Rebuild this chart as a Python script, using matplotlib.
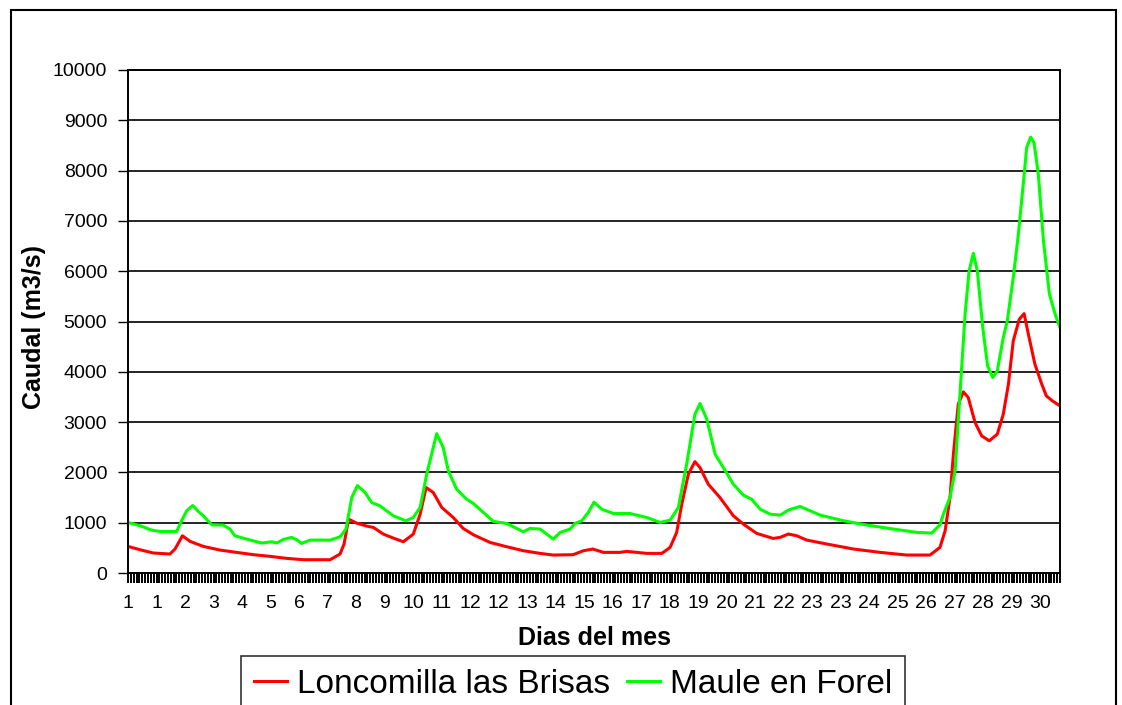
import matplotlib
matplotlib.use('Agg')
import matplotlib.pyplot as plt
from matplotlib.patches import Rectangle

plt.rcParams['font.family'] = ['Liberation Sans', 'DejaVu Sans']

# category axis: one tick per reading, a day label every 10 readings
n_points = 328
day_labels = ['1', '1', '2', '3', '4', '5', '6', '7', '8', '9', '10', '11', '12',
              '12', '13', '14', '15', '16', '17', '18', '19', '20', '21', '22',
              '23', '23', '24', '25', '26', '27', '28', '29', '30']

# (x = reading index, y = m3/s)
loncomilla_x = [0, 4.2, 8.9, 14.7, 16.5, 19.1, 21.8, 26.4, 32.3, 38.1, 44.0, 49.8,
                55.7, 61.5, 70.9, 74.4, 75.8, 77.4, 80.2, 83.8, 86.1, 89.6, 93.1,
                96.6, 100.1, 102.5, 104.6, 107.1, 110.1, 114.1, 117.6, 121.2, 127.0,
                132.9, 138.7, 144.6, 149.2, 156.2, 159.8, 163.1, 166.8, 172.6, 175.0,
                182.0, 187.3, 190.2, 192.5, 194.3, 196.6, 198.9, 200.7, 203.6, 207.7,
                212.4, 215.9, 220.6, 226.4, 228.8, 231.7, 234.6, 238.1, 245.2, 254.5,
                263.9, 273.2, 281.4, 284.9, 286.7, 288.4, 289.6, 291.3, 293.1, 294.8,
                297.2, 299.5, 302.2, 305.0, 307.1, 308.9, 310.6, 312.7, 314.4, 315.9,
                318.2, 320.6, 322.2, 324.3, 327.0]
loncomilla_y = [529, 463, 397, 377, 476, 740, 628, 529, 456, 410, 364, 331,
                291, 264, 264, 377, 575, 1071, 992, 932, 906, 773, 694,
                621, 773, 1170, 1699, 1600, 1302, 1104, 886, 760, 608,
                522, 443, 390, 357, 364, 443, 476, 410, 410, 430,
                390, 390, 509, 806, 1368, 1963, 2214, 2095, 1765, 1500,
                1137, 972, 787, 687, 708, 775, 741, 655, 576, 477,
                410, 357, 357, 510, 841, 1503, 2363, 3356, 3601, 3489,
                2992, 2727, 2628, 2760, 3158, 3754, 4614, 5044, 5157, 4747,
                4151, 3754, 3522, 3423, 3323]

maule_x = [0, 4.2, 8.3, 11.2, 17.1, 18.8, 20.6, 22.7, 24.7, 26.4, 29.4, 33.4,
           35.8, 37.5, 41.6, 46.9, 50.4, 52.2, 54.5, 57.4, 59.2, 60.9, 63.9,
           70.9, 74.4, 76.5, 78.5, 80.5, 83.2, 85.5, 88.4, 93.1, 97.5, 100.1,
           102.5, 104.8, 108.3, 110.6, 112.4, 115.3, 118.8, 121.2, 124.7, 128.2,
           132.9, 138.7, 141.1, 144.6, 149.2, 151.6, 155.1, 156.8, 159.2, 161.5,
           163.5, 166.2, 170.3, 176.1, 182.0, 186.7, 190.2, 193.1, 196.0, 198.9,
           200.7, 203.1, 206.0, 208.9, 212.4, 215.9, 218.8, 221.8, 225.3, 228.8,
           231.7, 235.8, 242.8, 251.0, 259.2, 268.5, 276.7, 282.0, 284.9, 286.1,
           288.4, 290.2, 291.9, 293.7, 295.1, 296.6, 298.0, 299.9, 301.6, 303.4,
           305.0, 307.1, 308.5, 310.6, 312.4, 314.1, 315.3, 316.7, 317.9, 319.4,
           321.2, 323.3, 325.3, 327.0]
maule_y = [1005, 940, 853, 826, 826, 1038, 1236, 1342, 1223, 1137, 958, 952,
           873, 740, 674, 595, 621, 595, 668, 707, 661, 588, 654,
           654, 720, 873, 1500, 1738, 1600, 1401, 1335, 1137, 1038, 1104,
           1302, 1963, 2770, 2492, 2029, 1666, 1467, 1381, 1203, 1025,
           985, 820, 886, 873, 674, 806, 873, 985, 1038, 1203,
           1408, 1269, 1183, 1183, 1104, 1005, 1051, 1302, 2161, 3153,
           3371, 3054, 2360, 2095, 1765, 1547, 1467, 1269, 1170, 1150,
           1251, 1324, 1152, 1039, 953, 874, 808, 794, 960, 1172,
           1503, 2032, 3555, 5144, 6004, 6355, 6004, 4879, 4118, 3886,
           4018, 4680, 5011, 5872, 6733, 7726, 8454, 8666, 8553, 7924,
           6600, 5541, 5144, 4879]

W, H = 1122, 705
fig = plt.figure(figsize=(W / 100, H / 100), dpi=100)
ax = fig.add_axes([128 / W, 1 - 573 / H, (1060 - 128) / W, (573 - 70) / H])

ax.plot(loncomilla_x, loncomilla_y, color='#ff0000', lw=2.2, label='Loncomilla las Brisas')
ax.plot(maule_x, maule_y, color='#00ff00', lw=2.2, label='Maule en Forel')

ax.set_xlim(0, n_points - 1)
ax.set_ylim(0, 10000)
ax.set_yticks(range(0, 10001, 1000))
ax.set_xticks(range(0, 10 * len(day_labels), 10))
ax.set_xticklabels(day_labels)
ax.set_xticks(range(0, n_points), minor=True)
ax.yaxis.grid(True, color='black', lw=1.2)
ax.set_axisbelow(True)
for s in ax.spines.values():
    s.set_linewidth(1.4)
ax.tick_params(axis='both', which='both', direction='out', length=7, width=1,
               labelsize=14, colors='black')
ax.tick_params(axis='x', which='both', width=1.4)
ax.tick_params(axis='x', which='major', pad=9)
ax.tick_params(axis='y', pad=8)

fig.text(34 / W, 1 - 327 / H, 'Caudal (m3/s)', rotation=90, ha='center', va='center',
         fontsize=18, fontweight='bold')
fig.text(594 / W, 1 - 638 / H, 'Dias del mes', ha='center', va='center',
         fontsize=18, fontweight='bold')

# outer chart frame (runs off the bottom edge like the original)
fig.add_artist(Rectangle((11 / W, -0.1), (1116 - 11) / W, 1 - 10 / H + 0.1,
                         transform=fig.transFigure, fill=False, ec='black', lw=1.5))

leg = fig.legend(loc='upper left', bbox_to_anchor=(241 / W, 1 - 656 / H), ncol=2,
                 fontsize=24, frameon=True, fancybox=False, edgecolor='black',
                 borderpad=0.38, handlelength=1.0, handletextpad=0.3,
                 columnspacing=0.5, borderaxespad=0)
leg.get_frame().set_linewidth(1.2)

fig.savefig('out.png', dpi=100)
